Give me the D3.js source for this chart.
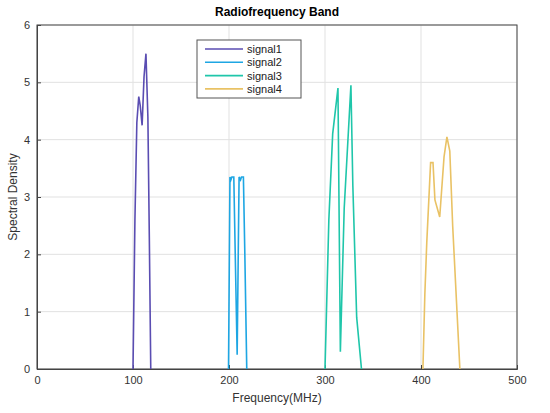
<!DOCTYPE html>
<html><head><meta charset="utf-8">
<script src="https://cdn.jsdelivr.net/npm/d3@7"></script>
<style>body{margin:0;background:#fff}svg{font-family:"Liberation Sans",Arial,sans-serif}</style>
</head><body><svg></svg>
<script>
const width = 550, height = 413;

// Series data: [MHz, density]
const signal1 = [[100,0],[102,2.6],[104,4.3],[106,4.75],[107.5,4.6],[109.5,4.25],[111.5,5.1],[113.5,5.5],[115.5,4.4],[117,2.3],[118.5,0]];
const signal2 = [[199.5,0],[201,3.35],[202,3.3],[203,3.35],[205,3.35],[206.5,2.0],[208.5,0.25],[210.5,3.35],[212,3.3],[213,3.35],[215,3.35],[216.5,2.0],[218.5,0]];
const signal3 = [[300,0],[304,2.6],[308,4.1],[313.5,4.9],[316,0.3],[320,2.8],[327,4.95],[329,3.2],[333,0.9],[338,0]];
const signal4 = [[402,0],[404,1.3],[406,2.2],[410,3.6],[412.5,3.6],[414.5,2.95],[419.5,2.65],[424,3.7],[427,4.05],[430,3.8],[433,2.5],[440.5,0]];
const seriesNames = ["signal1","signal2","signal3","signal4"];
const colors = ["#5a4db2","#1ea6e3","#1fc6aa","#e9c265"];
const xTicks = [0,100,200,300,400,500];
const yTicks = [0,1,2,3,4,5,6];

const margin = {top: 25, right: 33, bottom: 44, left: 37};
const innerWidth = width - margin.left - margin.right;
const innerHeight = height - margin.top - margin.bottom;

const svg = d3.select("svg").attr("width", width).attr("height", height);
const g = svg.append("g").attr("transform", `translate(${margin.left},${margin.top})`);

const xScale = d3.scaleLinear().domain([0, 500]).range([0, innerWidth]);
const yScale = d3.scaleLinear().domain([0, 6]).range([innerHeight, 0]);

// grid
g.append("g").selectAll("line").data(xTicks).join("line")
  .attr("x1", d => xScale(d)).attr("x2", d => xScale(d))
  .attr("y1", 0).attr("y2", innerHeight).attr("stroke", "#e1e1e1");
g.append("g").selectAll("line").data(yTicks).join("line")
  .attr("y1", d => yScale(d)).attr("y2", d => yScale(d))
  .attr("x1", 0).attr("x2", innerWidth).attr("stroke", "#e1e1e1");

// axes
const xAxisG = g.append("g").attr("transform", `translate(0,${innerHeight})`)
  .call(d3.axisBottom(xScale).tickValues(xTicks).tickFormat(d3.format("d")).tickSize(-4).tickPadding(7));
const yAxisG = g.append("g")
  .call(d3.axisLeft(yScale).tickValues(yTicks).tickFormat(d3.format("d")).tickSize(-4).tickPadding(7));
[xAxisG, yAxisG].forEach(a => {
  a.selectAll("text").attr("font-size", 11).attr("fill", "#333");
  a.selectAll("line,.domain").attr("stroke", "#444");
});
g.append("rect").attr("width", innerWidth).attr("height", innerHeight)
  .attr("fill", "none").attr("stroke", "#444");

// lines
const line = d3.line().x(d => xScale(d[0])).y(d => yScale(d[1]));
[signal1, signal2, signal3, signal4].forEach((s, i) => {
  g.append("path").datum(s).attr("d", line).attr("fill", "none")
    .attr("stroke", colors[i]).attr("stroke-width", 1.6);
});

// labels
svg.append("text").attr("x", margin.left + innerWidth / 2).attr("y", 16)
  .attr("text-anchor", "middle").attr("font-weight", "bold").attr("font-size", 12).text("Radiofrequency Band");
svg.append("text").attr("x", margin.left + innerWidth / 2).attr("y", 402)
  .attr("text-anchor", "middle").attr("font-size", 12).attr("fill", "#333").text("Frequency(MHz)");
svg.append("text").attr("transform", `translate(17,${margin.top + innerHeight / 2}) rotate(-90)`)
  .attr("text-anchor", "middle").attr("font-size", 12).attr("fill", "#333").text("Spectral Density");

// legend
const lg = svg.append("g").attr("transform", "translate(197,40)");
lg.append("rect").attr("width", 104).attr("height", 58).attr("fill", "#fff").attr("stroke", "#555");
seriesNames.forEach((n, i) => {
  const y = 9 + i * 13.3;
  lg.append("line").attr("x1", 8).attr("x2", 46).attr("y1", y).attr("y2", y)
    .attr("stroke", colors[i]).attr("stroke-width", 1.6);
  lg.append("text").attr("x", 50).attr("y", y + 4).attr("font-size", 11).attr("fill", "#222").text(n);
});
</script></body></html>
